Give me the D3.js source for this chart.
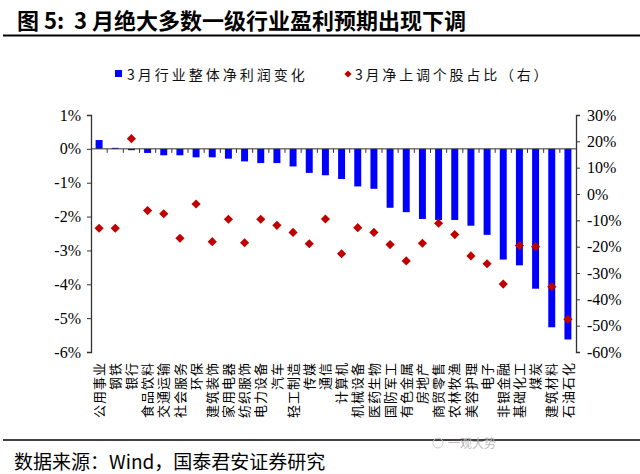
<!DOCTYPE html>
<html>
<head>
<meta charset="utf-8">
<script src="https://cdn.jsdelivr.net/npm/d3@7/dist/d3.min.js"></script>
<style>
  html, body { margin: 0; padding: 0; background: #fff; }
  svg { display: block; }
</style>
</head>
<body>
<script>
const categories = ["公用事业","钢铁","银行","食品饮料","交通运输","社会服务","环保","建筑装饰","家用电器","纺织服饰","电力设备","汽车","轻工制造","传媒","通信","计算机","机械设备","医药生物","国防军工","有色金属","房地产","商贸零售","农林牧渔","美容护理","电子","非银金融","基础化工","煤炭","建筑材料","石油石化"];
const profitChange = [0.26,0.03,-0.04,-0.12,-0.19,-0.19,-0.25,-0.25,-0.29,-0.37,-0.42,-0.42,-0.52,-0.71,-0.78,-0.89,-1.11,-1.18,-1.74,-1.87,-2.07,-2.10,-2.10,-2.27,-2.54,-3.27,-3.44,-4.13,-5.27,-5.63];
const upShare = [-13.0,-13.0,21.0,-6.3,-7.5,-16.8,-3.8,-18.1,-9.6,-18.5,-9.6,-11.9,-14.6,-18.9,-9.5,-22.7,-12.8,-14.6,-19.2,-25.4,-18.7,-11.1,-15.4,-23.5,-26.5,-34.2,-19.6,-20.0,-35.2,-47.6];
const leftTicks = [1,0,-1,-2,-3,-4,-5,-6];
const rightTicks = [30,20,10,0,-10,-20,-30,-40,-50,-60];
const legendLabels = ["3月行业整体净利润变化","3月净上调个股占比（右）"];
const titleText = "图 5:  3 月绝大多数一级行业盈利预期出现下调";
const sourceText = "数据来源：Wind，国泰君安证券研究";

const W = 640, H = 474;
const plot = {left: 91, right: 576, top: 115, bottom: 352};
const cjk = "'Noto Sans CJK SC', sans-serif";
const serif = "'Liberation Serif', 'Times New Roman', serif";

const svg = d3.select("body").append("svg").attr("width", W).attr("height", H);
svg.append("rect").attr("width", W).attr("height", H).attr("fill", "#fff");

// Title
svg.append("text").attr("x", 17).attr("y", 29)
  .attr("font-family", cjk).attr("font-weight", 700).attr("font-size", 22)
  .attr("fill", "#000").attr("xml:space","preserve").text(titleText);
svg.append("line").attr("x1", 3).attr("x2", 640).attr("y1", 35.5).attr("y2", 35.5)
  .attr("stroke", "#000").attr("stroke-width", 2);

// Scales
const x = d3.scaleBand().domain(categories).range([plot.left, plot.right])
  .paddingInner(0.57).paddingOuter(0.285);
const yL = d3.scaleLinear().domain([-6, 1]).range([plot.bottom, plot.top]);
const yR = d3.scaleLinear().domain([-60, 30]).range([plot.bottom, plot.top]);

const axisColor = "#333";

// Bars
svg.append("g").selectAll("rect").data(profitChange).join("rect")
  .attr("x", (d, i) => x(categories[i]))
  .attr("width", x.bandwidth())
  .attr("y", d => yL(Math.max(0, d)))
  .attr("height", d => Math.abs(yL(d) - yL(0)))
  .attr("fill", "#0000ff");

// Zero line with category tick marks
svg.append("line").attr("x1", plot.left).attr("x2", plot.right)
  .attr("y1", yL(0)).attr("y2", yL(0)).attr("stroke", axisColor).attr("stroke-width", 1);
svg.append("g").selectAll("line").data(categories.slice(0, -1)).join("line")
  .attr("x1", d => x(d) + x.bandwidth() / 2 + x.step() / 2)
  .attr("x2", d => x(d) + x.bandwidth() / 2 + x.step() / 2)
  .attr("y1", yL(0)).attr("y2", yL(0) + 4)
  .attr("stroke", axisColor).attr("stroke-width", 1);

// Left axis
const gL = svg.append("g").attr("transform", `translate(${plot.left},0)`)
  .call(d3.axisLeft(yL).tickValues(leftTicks).tickSize(4).tickFormat(d => d + "%"));
gL.select(".domain").attr("stroke", axisColor).attr("stroke-width", 1.3);
gL.selectAll(".tick line").attr("stroke", axisColor);
gL.selectAll(".tick text").attr("font-family", serif).attr("font-size", 16)
  .attr("fill", "#000").attr("x", -10);

// Right axis
const gR = svg.append("g").attr("transform", `translate(${plot.right},0)`)
  .call(d3.axisRight(yR).tickValues(rightTicks).tickSize(4).tickFormat(d => d + "%"));
gR.select(".domain").attr("stroke", axisColor).attr("stroke-width", 1.3);
gR.selectAll(".tick line").attr("stroke", axisColor);
gR.selectAll(".tick text").attr("font-family", serif).attr("font-size", 16)
  .attr("fill", "#000").attr("x", 11);

// Diamonds
const diamond = d3.symbol(d3.symbolSquare, 42);
svg.append("g").selectAll("path").data(upShare).join("path")
  .attr("d", diamond)
  .attr("transform", (d, i) => `translate(${x(categories[i]) + x.bandwidth() / 2},${yR(d)}) rotate(45)`)
  .attr("fill", "#c00000");

// Category labels (rotated)
svg.append("g").selectAll("text").data(categories).join("text")
  .attr("transform", d => `translate(${x(d) + x.bandwidth() / 2},362) rotate(-90)`)
  .attr("text-anchor", "end").attr("dy", "0.36em")
  .attr("font-family", cjk).attr("font-size", 13).attr("letter-spacing", 1)
  .attr("fill", "#000").text(d => d);

// Legend
const lg = svg.append("g");
lg.append("rect").attr("x", 115).attr("y", 70).attr("width", 7).attr("height", 7).attr("fill", "#0000ff");
lg.append("text").attr("x", 127).attr("y", 80).attr("font-family", cjk).attr("font-size", 14)
  .attr("letter-spacing", 3).attr("fill", "#111").text(legendLabels[0]);
lg.append("path").attr("d", d3.symbol(d3.symbolSquare, 26)).attr("transform", "translate(348,74) rotate(45)")
  .attr("fill", "#c00000");
lg.append("text").attr("x", 355).attr("y", 80).attr("font-family", cjk).attr("font-size", 14)
  .attr("letter-spacing", 2.8).attr("fill", "#111").text(legendLabels[1]);

// Footer
svg.append("line").attr("x1", 3).attr("x2", 640).attr("y1", 440).attr("y2", 440)
  .attr("stroke", "#000").attr("stroke-width", 1.5);
svg.append("text").attr("x", 14).attr("y", 469)
  .attr("font-family", "'Noto Sans CJK SC', 'Liberation Serif', serif").attr("font-size", 19)
  .attr("fill", "#000").text(sourceText);
svg.append("text").attr("x", 448).attr("y", 448)
  .attr("font-family", cjk).attr("font-size", 12).attr("fill", "#bbb").text("一观大势");
svg.append("circle").attr("cx", 438).attr("cy", 443).attr("r", 5)
  .attr("fill", "none").attr("stroke", "#ccc").attr("stroke-width", 1);
</script>
</body>
</html>
